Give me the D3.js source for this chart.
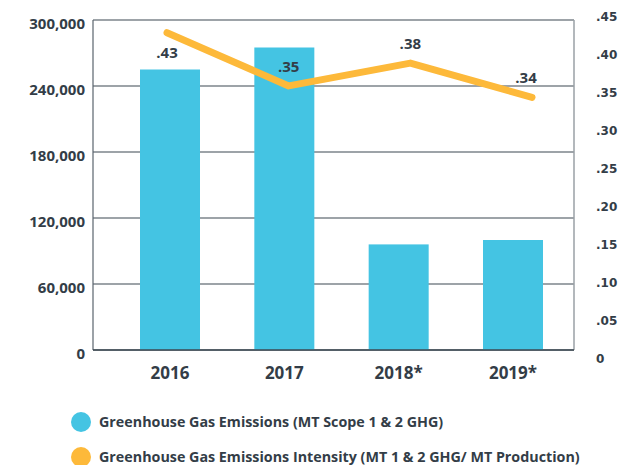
<!DOCTYPE html>
<html>
<head>
<meta charset="utf-8">
<script src="https://cdn.jsdelivr.net/npm/d3@7"></script>
<style>
  body { margin: 0; background: #fff; }
  svg { display: block; }
  text { fill: #333d47; }
</style>
</head>
<body>
<div id="container"></div>
<script>
const years = ['2016', '2017', '2018*', '2019*'];
const emissions = [255000, 275000, 96000, 100000];
const intensity = [0.428, 0.358, 0.388, 0.343];
const intensityLabels = ['.43', '.35', '.38', '.34'];
const leftTicks = [0, 60000, 120000, 180000, 240000, 300000];
const rightTicks = [0, 0.05, 0.10, 0.15, 0.20, 0.25, 0.30, 0.35, 0.40, 0.45];
const legendItems = [
  'Greenhouse Gas Emissions (MT Scope 1 & 2 GHG)',
  'Greenhouse Gas Emissions Intensity (MT 1 & 2 GHG/ MT Production)'
];

const w = 639, h = 465;
const plot = { left: 93, right: 574, top: 20, bottom: 350 };
const blue = '#44c4e3', orange = '#fdb93a';

const svg = d3.select('#container').append('svg')
  .attr('width', w).attr('height', h);

const y = d3.scaleLinear().domain([0, 300000]).range([plot.bottom, plot.top]);
const yR = d3.scaleLinear().domain([0, 0.45]).range([358, 16]);
const xBar = d3.scalePoint().domain(years).range([170, 513]);
const xLine = d3.scalePoint().domain(years).range([167, 532]);

// gridlines + left labels
svg.append('g')
  .selectAll('line')
  .data(leftTicks)
  .enter().append('line')
  .attr('x1', plot.left).attr('x2', plot.right)
  .attr('y1', d => y(d)).attr('y2', d => y(d))
  .attr('stroke', '#3d4852').attr('stroke-width', 1.2);

svg.append('g')
  .selectAll('text')
  .data(leftTicks)
  .enter().append('text')
  .attr('x', 85).attr('y', d => y(d) + 9)
  .attr('text-anchor', 'end')
  .style('font-family', 'Open Sans').style('font-weight', 700).style('font-size', '15px')
  .text(d => d3.format(',')(d));

// bars
svg.append('g')
  .selectAll('rect')
  .data(emissions)
  .enter().append('rect')
  .attr('x', (d, i) => xBar(years[i]) - 30)
  .attr('width', 60)
  .attr('y', d => y(d))
  .attr('height', d => plot.bottom - y(d))
  .attr('fill', blue);

// frame
svg.append('line').attr('x1', plot.left).attr('x2', plot.left).attr('y1', plot.top).attr('y2', plot.bottom)
  .attr('stroke', '#5a646d').attr('stroke-width', 1.2);
svg.append('line').attr('x1', plot.right).attr('x2', plot.right).attr('y1', plot.top).attr('y2', plot.bottom)
  .attr('stroke', '#9aa0a6').attr('stroke-width', 1.5);
svg.append('line').attr('x1', plot.left).attr('x2', plot.right).attr('y1', plot.bottom).attr('y2', plot.bottom)
  .attr('stroke', '#3d4852').attr('stroke-width', 1.5);

// right labels
svg.append('g')
  .selectAll('text')
  .data(rightTicks)
  .enter().append('text')
  .attr('x', 596).attr('y', d => yR(d) + 4.5)
  .style('font-family', 'DejaVu Sans').style('font-weight', 700).style('font-size', '12px')
  .text(d => d === 0 ? '0' : d3.format('.2f')(d).replace(/^0/, ''));

// intensity line
const line = d3.line()
  .x((d, i) => xLine(years[i]))
  .y(d => yR(d));

svg.append('path')
  .datum(intensity)
  .attr('fill', 'none')
  .attr('stroke', orange)
  .attr('stroke-width', 7)
  .attr('stroke-linecap', 'round')
  .attr('stroke-linejoin', 'round')
  .attr('d', line);

svg.append('g')
  .selectAll('text')
  .data(intensity)
  .enter().append('text')
  .attr('x', (d, i) => xLine(years[i]) + (i === 3 ? -6 : 0))
  .attr('y', (d, i) => i === 0 ? yR(d) + 25 : yR(d) - 14)
  .attr('text-anchor', 'middle')
  .style('font-family', 'Open Sans').style('font-weight', 700).style('font-size', '15px')
  .text((d, i) => intensityLabels[i]);

// x labels
svg.append('g')
  .selectAll('text')
  .data(years)
  .enter().append('text')
  .attr('x', d => xBar(d))
  .attr('y', 379)
  .attr('text-anchor', 'middle')
  .style('font-family', 'Open Sans').style('font-weight', 700).style('font-size', '17px')
  .text(d => d);

// legend
const legend = svg.append('g')
  .selectAll('g')
  .data(legendItems)
  .enter().append('g')
  .attr('transform', (d, i) => `translate(0, ${422 + i * 35})`);

legend.append('circle')
  .attr('cx', 81).attr('cy', 0).attr('r', 10)
  .attr('fill', (d, i) => i === 0 ? blue : orange);

legend.append('text')
  .attr('x', 99).attr('y', 5)
  .style('font-family', 'Open Sans').style('font-weight', 700).style('font-size', '14.3px')
  .text(d => d);
</script>
</body>
</html>
